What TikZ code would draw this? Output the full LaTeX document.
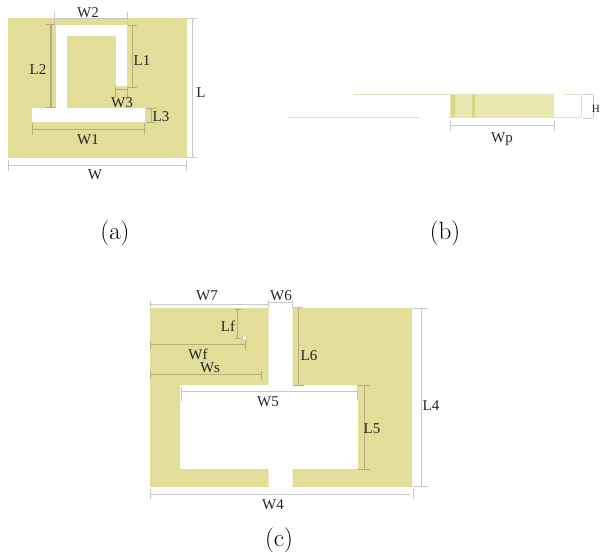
\documentclass[tikz,border=0pt]{standalone}
\usepackage{fontspec}
\setmainfont{Liberation Serif}
\newfontfamily\capfont{Latin Modern Roman}
\definecolor{patch}{HTML}{E2DD98}
\definecolor{subst}{HTML}{E8E8AE}
\definecolor{band}{HTML}{D8D67E}
\definecolor{edge}{HTML}{E6DFC4}
\definecolor{dimgrey}{HTML}{C8C8C8}
\definecolor{dimolive}{HTML}{B4AF78}
\tikzset{
  patchfill/.style={fill=patch,draw=none},
  slotfill/.style={fill=white,draw=none},
  dimout/.style={draw=dimgrey,line width=1pt},
  dimin/.style={draw=dimolive,line width=0.8pt},
  subedge/.style={draw=edge,line width=1pt},
  lab/.style={font=\fontsize{15}{15}\selectfont,inner sep=0pt,text=black!85},
  captionlab/.style={font=\capfont\fontsize{25}{25}\selectfont,inner sep=0pt}
}
\begin{document}
\begin{tikzpicture}[x=1pt,y=-1pt]
\useasboundingbox (0,0) rectangle (600,554);
% (a)
\fill[patchfill] (8,18) rectangle (187,158);
\fill[slotfill] (56,25)--(127,25)--(127,86)--(116,86)--(116,36)--(67,36)--(67,108)--(145,108)--(145,122)--(32,122)--(32,108)--(56,108)--cycle;
\draw[dimin,line width=1.4pt] (51,24)--(51,108);
\draw[dimin] (46,24)--(55,24) (46,107.5)--(55,107.5);
\draw[dimout] (54,18.5)--(127,18.5) (54,12)--(54,24) (127,12)--(127,24);
\draw[dimin] (132,25)--(132,87) (128,25)--(137,25) (128,87)--(137,87);
\draw[dimin] (115,89)--(127,89) (115,87)--(115,97) (127,87)--(127,97);
\draw[dimin] (151,108)--(151,122) (146,108)--(156,108) (146,122)--(156,122);
\draw[dimin] (32,129)--(144,129) (32,123)--(32,135) (144,123)--(144,135);
\draw[dimout] (8,165)--(186,165) (8,160)--(8,171) (186,160)--(186,171);
\draw[dimout] (192,18)--(192,157) (187,18)--(197,18) (187,157)--(197,157);
\node[lab] (w2) at (88,13) {W2};
\node[lab] (l2) at (38,70) {L2};
\node[lab] (l1) at (142,61) {L1};
\node[lab] (w3) at (122,103) {W3};
\node[lab] (l3) at (161,117) {L3};
\node[lab] (w1) at (88,140) {W1};
\node[lab] (w) at (95,175) {W};
\node[lab] (l) at (201,93) {L};
\node[captionlab] (capa) at (115,233) {(a)};
% (b)
\fill[subst] (450,94.5) rectangle (554,117);
\fill[band] (451,94.5) rectangle (455,117) (472,94.5) rectangle (475,117);
\draw[subedge] (354,94.5)--(554,94.5) (287,117.5)--(420,117.5) (447,117.5)--(581,117.5) (564,94.5)--(581,94.5)--(581,117.5);
\draw[dimout] (450,125.5)--(554,125.5) (450,121)--(450,131) (554,121)--(554,131);
\draw[dimout] (593,94.5)--(593,118) (583,94.5)--(593,94.5) (583,118)--(593,118);
\node[lab] (wp) at (502,139) {Wp};
\node[lab,font=\fontsize{11}{11}\selectfont,anchor=east] (h) at (600,109) {H};
\node[captionlab] (capb) at (445,233) {(b)};
% (c)
\fill[patchfill] (150,308)--(268.7,308)--(268.7,385)--(180,385)--(180,469)--(268.7,469)--(268.7,487)--(150,487)--cycle;
\fill[patchfill] (292.5,308)--(412,308)--(412,487)--(292.5,487)--(292.5,469)--(358,469)--(358,385)--(292.5,385)--cycle;
\draw[dimout] (150,304.5)--(268,304.5) (150,301)--(150,308) (268,300)--(268,308);
\draw[dimout,line width=0.5pt] (268.5,302.5)--(292,302.5);
\draw[dimout] (292,300)--(292,308) (292,307.5)--(303,307.5);
\draw[dimin] (298,308)--(298,385) (292.5,385)--(304,385);
\draw[dimin] (237,309)--(237,338) (234,309)--(241,309) (234,338)--(241,338);
\draw[dimin] (150,344.5)--(245,344.5) (150.5,341)--(150.5,349) (245,339)--(245,350);
\draw[dimin] (150,374.5)--(261,374.5) (150.5,371)--(150.5,379) (261,371)--(261,379);
\draw[dimout] (181,391)--(357,391) (181,387)--(181,401) (357,385)--(357,400);
\draw[dimin] (364,385)--(364,469) (358,385)--(370,385) (358,469)--(370,469);
\draw[dimout] (421.5,308)--(421.5,486) (413,308)--(428,308) (413,486)--(428,486);
\draw[dimout] (150,494)--(410,494) (150,489)--(150,499) (413,489)--(413,499);
\node[circle,fill=white,draw=dimolive,line width=0.4pt,minimum size=4.6pt,inner sep=0pt] (port1) at (244.5,338) {};
\node[circle,fill=white,draw=dimolive,line width=0.4pt,minimum size=2.6pt,inner sep=0pt] (port2) at (262,380) {};
\node[lab] (w7) at (207,296) {W7};
\node[lab] (w6) at (281,296) {W6};
\node[lab] (lf) at (228,326) {Lf};
\node[lab] (wf) at (198,354) {Wf};
\node[lab] (ws) at (210,368) {Ws};
\node[lab] (l6) at (309,356) {L6};
\node[lab] (w5) at (268,402) {W5};
\node[lab] (l5) at (372,429) {L5};
\node[lab] (l4) at (431,406) {L4};
\node[lab] (w4) at (273,505) {W4};
\node[captionlab] (capc) at (279,540) {(c)};
\end{tikzpicture}
\end{document}
